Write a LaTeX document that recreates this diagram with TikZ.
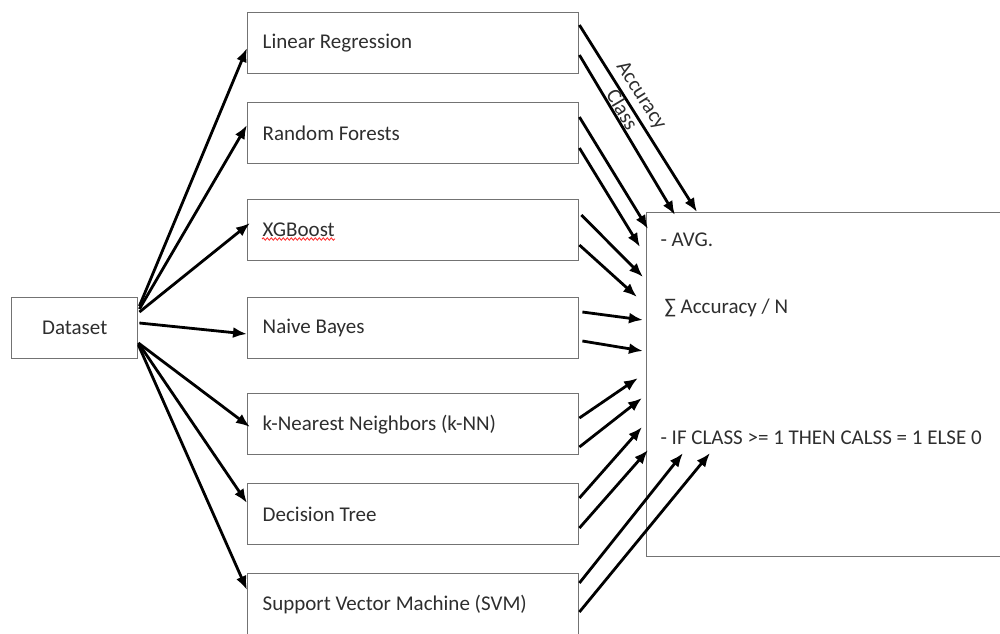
\documentclass[tikz,border=0pt]{standalone}
\usepackage{fontspec}
\setmainfont{Carlito}
\usetikzlibrary{arrows.meta,calc,decorations.pathmorphing}
\begin{document}
\begin{tikzpicture}[x=1pt,y=-1pt,
  box/.style={draw=black!55,line width=1.4pt,minimum height=61pt,inner sep=0pt},
  model/.style={box,minimum width=331pt,text width=301pt,inner xsep=15pt,align=flush left,anchor=north west},
  lbl/.style={text=black!82,font=\fontsize{21}{25}\selectfont},
  arr/.style={line width=2.8pt,-{Latex[length=14pt,width=11pt]}}]
\useasboundingbox (0,0) rectangle (1000,633);
% Dataset
\node[box,lbl,minimum width=126pt,anchor=north west] (ds) at (11,297) {Dataset};
% models
\node[model,lbl] (lr) at (247,12) {Linear Regression};
\node[model,lbl] (rf) at (247,102) {Random Forests};
\node[model,lbl] (xgb) at (247,199) {XGBoost};
\node[model,lbl] (nb) at (247,297) {Naive Bayes};
\node[model,lbl] (knn) at (247,393) {k-Nearest Neighbors (k-NN)};
\node[model,lbl] (dt) at (247,483) {Decision Tree};
\node[model,lbl] (svm) at (247,573) {Support Vector Machine (SVM)};
% result box
\node[draw=black!55,line width=1.4pt,minimum width=380pt,minimum height=344pt,anchor=north west,inner sep=0pt] (res) at (646,212) {};
\node[lbl,anchor=west] (t1) at (657,240) {- AVG.};
\node[lbl,anchor=west] (t2) at (661,308) {∑ Accuracy / N};
\node[lbl,anchor=west] (t3) at (657,438) {- IF CLASS >= 1 THEN CALSS = 1 ELSE 0};
% spell-check underline
\coordinate (ua) at ($(xgb.north west)+(15,40)$);
\coordinate (ub) at ($(xgb.north west)+(88,40)$);
\draw[red!85,line width=0.8pt,decorate,decoration={snake,amplitude=1.2pt,segment length=4pt}] (ua) -- (ub);
% dataset arrows
\draw[arr] ($(ds.north east)+(1,9)$) -- ($(lr.north west)+(0,36)$);
\draw[arr] ($(ds.north east)+(1,12)$) -- ($(rf.north west)+(0,23)$);
\draw[arr] ($(ds.north east)+(1,15)$) -- ($(xgb.north west)+(3,24)$);
\draw[arr] ($(ds.north east)+(1,26)$) -- ($(nb.north west)+(0,37)$);
\draw[arr] ($(ds.north east)+(0,46)$) -- ($(knn.north west)+(3,34)$);
\draw[arr] ($(ds.north east)+(0,46)$) -- ($(dt.north west)+(0,20)$);
\draw[arr] ($(ds.north east)+(0,48)$) -- ($(svm.north west)+(0,17)$);
% model -> result arrows
\draw[arr] ($(lr.north east)+(0,13)$) -- node[lbl,sloped,above=1pt,pos=0.42] (acc) {Accuracy} ($(res.north west)+(51,0)$);
\draw[arr] ($(lr.north east)+(0,43)$) -- node[lbl,sloped,above=-3pt,pos=0.37] (cls) {Class} ($(res.north west)+(29,3)$);
\draw[arr] ($(rf.north east)+(0,15)$) -- ($(res.north west)+(2,17)$);
\draw[arr] ($(rf.north east)+(0,46)$) -- ($(res.north west)+(-6,35)$);
\draw[arr] ($(xgb.north east)+(2,16)$) -- ($(res.north west)+(-3,65)$);
\draw[arr] ($(xgb.north east)+(0,46)$) -- ($(res.north west)+(-9,85)$);
\draw[arr] ($(nb.north east)+(3,15)$) -- ($(res.north west)+(-3,108)$);
\draw[arr] ($(nb.north east)+(3,44)$) -- ($(res.north west)+(-3,139)$);
\draw[arr] ($(knn.north east)+(0,25)$) -- ($(res.north west)+(-8,166)$);
\draw[arr] ($(knn.north east)+(0,54)$) -- ($(res.north west)+(-4,186)$);
\draw[arr] ($(dt.north east)+(0,15)$) -- ($(res.north west)+(-4,215)$);
\draw[arr] ($(dt.north east)+(0,45)$) -- ($(res.north west)+(2,238)$);
\draw[arr] ($(svm.north east)+(0,10)$) -- ($(res.north west)+(37,241)$);
\draw[arr] ($(svm.north east)+(0,39)$) -- ($(res.north west)+(64,241)$);
\end{tikzpicture}
\end{document}
